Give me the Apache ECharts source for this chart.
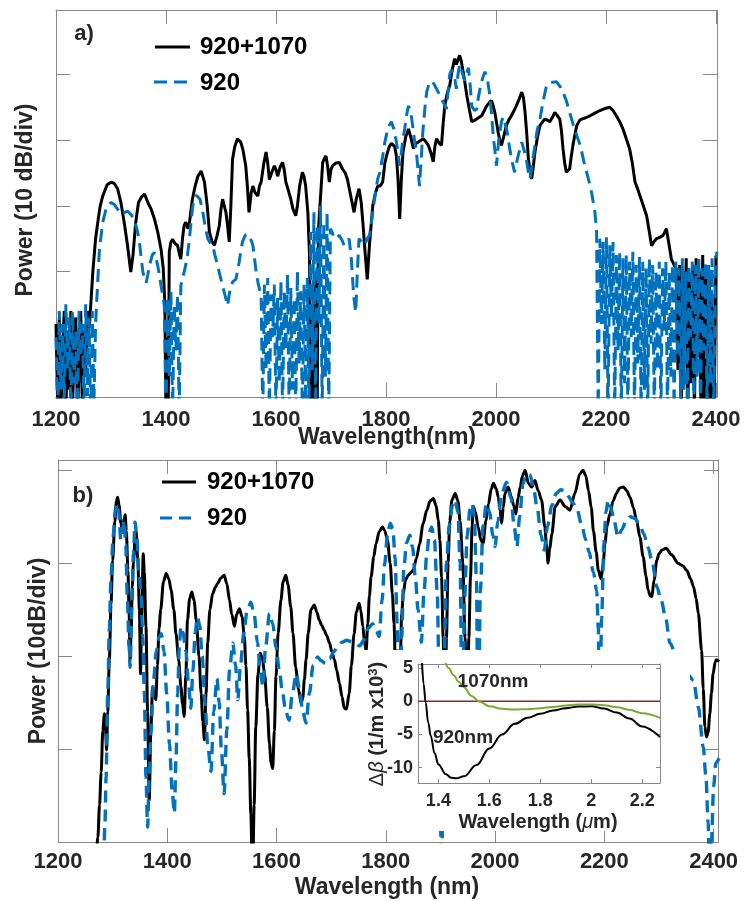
<!DOCTYPE html>
<html>
<head>
<meta charset="utf-8">
<title>Spectra 920 vs 920+1070</title>
<script src="https://cdn.jsdelivr.net/npm/echarts@6.0.0/dist/echarts.min.js"></script>
<style>
  html, body { margin: 0; padding: 0; background: #fff; }
  #chart { width: 745px; height: 901px; }
</style>
</head>
<body>
<div id="chart"></div>
<script>
// a) measured spectra, [wavelength nm, power dB]
const aBoth = [
  [1200,-48],[1203,-60],[1206,-47],[1209,-62],[1212,-52],[1215,-46],[1218,-62],[1221,-49],[1224,-58],[1227,-46],
  [1230,-62],[1233,-50],[1236,-47],[1239,-62],[1242,-55],[1245,-46],[1248,-62],[1251,-49],[1254,-56],[1257,-46],
  [1259,-49],[1261,-48],[1264,-44],[1267,-40],[1272,-35],[1276,-32.5],[1280,-30.2],[1285,-28.5],[1293,-26.8],[1300,-26.4],
  [1306,-26.6],[1312,-27.4],[1318,-29.5],[1324,-32.5],[1330,-36],[1336,-40.1],[1340,-37.5],[1345,-32.5],[1350,-29.5],[1356,-28.6],
  [1361,-28.2],[1367,-29.5],[1373,-30.5],[1379,-32],[1385,-34],[1391,-36.6],[1395,-39.5],[1398,-45],[1400,-62],[1402,-50],
  [1404,-62],[1406,-37],[1409,-35.5],[1412,-35.1],[1417,-35.8],[1421,-36],[1425,-37.5],[1427,-38.1],[1430,-35],[1433,-33],
  [1436,-32.5],[1440,-33.5],[1442,-33],[1445,-31],[1448,-29],[1453,-27],[1458,-25.5],[1464,-24.7],[1470,-26.4],[1475,-30],
  [1479,-34],[1484,-35.5],[1488,-36],[1493,-34.5],[1497,-33],[1500,-30.5],[1503,-29],[1506,-30],[1509,-31],[1512,-33],
  [1515,-35.5],[1518,-30],[1521,-22.9],[1525,-21],[1530,-19.8],[1533,-19.6],[1536,-20.3],[1540,-21.5],[1545,-23.9],[1548,-27],
  [1551,-31],[1555,-28],[1558,-27],[1562,-28],[1567,-28.5],[1570,-27],[1573,-26.4],[1578,-23.5],[1582,-21.8],[1585,-23.5],
  [1588,-26],[1592,-25],[1597,-23.9],[1600,-24.5],[1603,-25.5],[1608,-24],[1612,-23.4],[1615,-24.5],[1618,-26.4],[1622,-27.5],
  [1627,-29],[1631,-30.5],[1636,-31.5],[1639,-30],[1643,-27],[1648,-24.9],[1651,-25.5],[1654,-27],[1658,-31],[1661,-37.6],
  [1663,-62],[1665,-45],[1667,-62],[1669,-42],[1671,-62],[1673,-40],[1675,-62],[1677,-34],[1680,-30],[1685,-23.4],
  [1688,-22.8],[1691,-22.4],[1694,-24],[1697,-26.4],[1700,-24.5],[1703,-23.9],[1709,-23.5],[1715,-23.4],[1721,-24.4],[1726,-25],
  [1730,-26],[1736,-28.5],[1742,-31],[1746,-29],[1751,-27.4],[1755,-29.5],[1758,-32.5],[1762,-37],[1766,-41.2],[1770,-36],
  [1773,-33],[1776,-30],[1781,-28],[1785,-27],[1789,-27],[1794,-26.4],[1798,-23.5],[1801,-22.4],[1806,-21],[1810,-20.5],
  [1813,-20.3],[1816,-21],[1819,-22.4],[1822,-26],[1825,-32],[1828,-26],[1831,-21.8],[1836,-19.5],[1841,-18.3],[1845,-19.5],
  [1850,-21.3],[1855,-20.5],[1859,-20.3],[1864,-20],[1868,-19.8],[1872,-20.2],[1877,-20.8],[1882,-22],[1886,-23.3],[1889,-21],
  [1892,-19.8],[1897,-20.5],[1901,-20.8],[1904,-17.5],[1907,-14.8],[1911,-13],[1916,-11.7],[1920,-9.5],[1925,-7.6],[1928,-8.5],
  [1931,-7.8],[1934,-7.1],[1937,-8],[1941,-9.9],[1944,-11.5],[1947,-13.2],[1952,-15.5],[1956,-17.2],[1961,-17],[1965,-16.8],
  [1970,-16.5],[1974,-16.3],[1979,-15.5],[1983,-14.8],[1988,-14.3],[1992,-14],[1995,-14.8],[1998,-15.8],[2001,-17.3],[2004,-18.8],
  [2007,-20],[2010,-20.8],[2014,-19.5],[2019,-17.8],[2023,-17],[2028,-16.3],[2033,-15.5],[2037,-14.8],[2042,-13.8],[2047,-12.7],
  [2050,-13.5],[2053,-15.8],[2056,-19],[2059,-22.9],[2062,-24.5],[2065,-25.9],[2068,-24],[2071,-21.8],[2075,-19.8],[2080,-17.8],
  [2085,-17.2],[2089,-16.8],[2094,-17],[2098,-17.2],[2103,-16.5],[2107,-15.8],[2111,-16.2],[2116,-16.8],[2119,-18.5],[2122,-21.3],
  [2125,-23.5],[2128,-24.9],[2131,-25],[2134,-24.4],[2137,-22.5],[2140,-20.8],[2144,-19],[2147,-17.8],[2152,-17],[2156,-16.8],
  [2163,-16.6],[2171,-16.3],[2180,-15.9],[2189,-15.5],[2198,-15.2],[2207,-15],[2213,-15.5],[2219,-16.3],[2225,-17.2],[2231,-18.3],
  [2237,-19.8],[2243,-21.3],[2248,-23.5],[2253,-26.4],[2258,-27.5],[2262,-28.5],[2268,-30],[2274,-31.5],[2279,-34],[2283,-36.1],
  [2287,-35.5],[2292,-35],[2298,-34.8],[2304,-34.5],[2307,-34],[2310,-33.5],[2314,-35.5],[2319,-38.1],[2324,-39],[2328,-39.6],
  [2331,-55],[2334,-39],[2337,-62],[2340,-40],[2343,-50],[2346,-38],[2349,-62],[2352,-41],[2355,-57],[2358,-39],
  [2361,-62],[2364,-38],[2367,-53],[2370,-40],[2373,-62],[2376,-37.5],[2379,-60],[2382,-39],[2385,-62],[2388,-40],
  [2391,-62],[2394,-45],[2397,-62],[2400,-37.6]
];
const aSingle = [
  [1200,-50],[1203,-62],[1206,-46],[1209,-58],[1212,-48],[1215,-62],[1218,-45],[1221,-55],[1224,-47],[1227,-62],
  [1230,-46],[1233,-57],[1236,-49],[1239,-62],[1242,-46],[1245,-53],[1248,-48],[1251,-62],[1254,-45],[1257,-59],
  [1260,-47],[1263,-62],[1266,-46],[1269,-60],[1272,-48],[1275,-43],[1279,-36.6],[1285,-32.5],[1290,-30.8],[1294,-30],
  [1300,-29.5],[1306,-29.8],[1312,-30.5],[1318,-31.3],[1321,-31.3],[1325,-31],[1330,-30.8],[1336,-31.3],[1342,-32],[1347,-33.5],
  [1351,-35],[1355,-38],[1358,-40.1],[1361,-41],[1364,-41.7],[1367,-40.5],[1370,-39.1],[1375,-37.5],[1379,-37.1],[1382,-38],
  [1385,-39.1],[1388,-40.5],[1391,-42.2],[1394,-43.5],[1397,-45.2],[1400,-62],[1403,-44],[1406,-56],[1409,-43],[1412,-62],
  [1415,-45],[1418,-52],[1421,-43.5],[1424,-62],[1427,-42.2],[1430,-41],[1433,-40.1],[1436,-39],[1439,-37.6],[1442,-35.5],
  [1445,-33],[1448,-30.5],[1451,-29],[1455,-28.4],[1458,-28.2],[1462,-29],[1467,-31],[1471,-33],[1476,-35],[1480,-35.6],
  [1485,-36],[1489,-37.5],[1494,-39.1],[1498,-40.5],[1503,-42.2],[1507,-43.5],[1512,-45.2],[1515,-43.5],[1518,-42.2],[1522,-41.5],
  [1527,-41.2],[1530,-40],[1533,-38.6],[1536,-37],[1539,-35.5],[1544,-34.5],[1548,-34.3],[1552,-34.7],[1556,-35.5],[1558,-36],
  [1561,-38],[1564,-40.1],[1568,-42],[1573,-43.7],[1576,-62],[1579,-42],[1582,-55],[1585,-41],[1588,-62],[1591,-43.5],
  [1594,-50],[1597,-42],[1600,-62],[1603,-44],[1606,-57],[1609,-41.5],[1612,-62],[1615,-43],[1618,-52],[1621,-40.5],
  [1624,-62],[1627,-42.5],[1630,-58],[1633,-44],[1636,-62],[1639,-40],[1642,-54],[1645,-43],[1648,-62],[1651,-42],
  [1654,-60],[1657,-41],[1660,-62],[1663,-34],[1666,-55],[1669,-31],[1672,-62],[1675,-33],[1678,-48],[1681,-30],
  [1684,-62],[1687,-32.5],[1690,-56],[1693,-31],[1696,-62],[1699,-33.5],[1702,-34],[1706,-35],[1710,-34.8],[1715,-34.5],
  [1720,-35.2],[1724,-36],[1729,-35.5],[1733,-35],[1737,-38],[1740,-42],[1742,-44.2],[1745,-46.2],[1748,-40],[1751,-35],
  [1756,-35.5],[1761,-36],[1766,-35],[1770,-34.5],[1773,-33],[1776,-31],[1780,-28.5],[1785,-25.9],[1789,-24.9],[1794,-22.5],
  [1798,-20.3],[1804,-18],[1810,-17.2],[1815,-18.5],[1819,-20.3],[1822,-22],[1825,-23.9],[1830,-20.5],[1834,-18.3],[1838,-16],
  [1841,-14.8],[1844,-15.5],[1847,-16.8],[1851,-19.5],[1856,-22.4],[1861,-27],[1864,-23],[1867,-18.8],[1871,-15],[1874,-12.7],
  [1878,-11.5],[1883,-11],[1887,-11.4],[1892,-12.2],[1897,-13],[1901,-13.7],[1906,-14.5],[1910,-15.3],[1913,-12.5],[1916,-10],
  [1919,-9.3],[1922,-9],[1925,-10.5],[1928,-12.2],[1931,-10],[1934,-8.5],[1938,-9.5],[1943,-11],[1946,-10],[1950,-9],
  [1953,-11.5],[1956,-14.8],[1961,-15.5],[1965,-15.3],[1968,-13.5],[1971,-12.2],[1976,-10.5],[1980,-9.6],[1984,-10.5],[1989,-13.2],
  [1992,-16],[1995,-19.3],[1998,-21.5],[2001,-23.9],[2005,-20],[2010,-17.2],[2013,-16.5],[2016,-16.3],[2020,-18.5],[2025,-21.3],
  [2030,-23.5],[2034,-24.9],[2040,-22.5],[2047,-20.3],[2051,-21.5],[2056,-23.3],[2059,-24.8],[2062,-25.9],[2066,-23.5],[2071,-20.8],
  [2075,-18.5],[2080,-16.8],[2086,-14],[2092,-11.7],[2098,-11.2],[2104,-11.2],[2110,-11.1],[2113,-11.2],[2118,-12],[2122,-12.7],
  [2128,-14],[2134,-15.8],[2140,-17.5],[2147,-19.3],[2152,-20.5],[2156,-21.8],[2160,-23.3],[2165,-24.9],[2170,-26.5],[2174,-28],
  [2177,-29.5],[2180,-31],[2183,-33.8],[2186,-62],[2189,-35],[2192,-48],[2195,-35.5],[2198,-55],[2201,-34.8],[2204,-62],
  [2207,-36],[2210,-47],[2213,-35.5],[2216,-62],[2219,-37.5],[2222,-52],[2225,-37],[2228,-62],[2231,-38],[2234,-57],
  [2237,-37.5],[2240,-62],[2243,-38.5],[2246,-50],[2249,-37],[2252,-62],[2255,-39],[2258,-54],[2261,-37.8],[2264,-62],
  [2267,-38.5],[2270,-58],[2273,-39.5],[2276,-62],[2279,-38],[2282,-51],[2285,-39],[2288,-62],[2291,-40],[2294,-55],
  [2297,-38.5],[2300,-62],[2303,-39.5],[2306,-49],[2309,-38.5],[2312,-62],[2315,-40],[2318,-56],[2321,-39],[2324,-62],
  [2327,-38.5],[2330,-53],[2333,-39.5],[2336,-62],[2339,-38],[2342,-58],[2345,-40],[2348,-62],[2351,-39],[2354,-50],
  [2357,-38.5],[2360,-62],[2363,-39],[2366,-56],[2369,-38],[2372,-62],[2375,-39.5],[2378,-52],[2381,-38.5],[2384,-62],
  [2387,-39],[2390,-57],[2393,-38],[2396,-62],[2399,-38.5],[2402,-37]
];

// b) simulated spectra, [wavelength nm, power dB]
const bBoth = [
  [1262,-48],[1268,-43],[1273,-39.5],[1276,-36],[1279,-32.5],[1282,-28],[1285,-26.2],[1287,-28],[1289,-30.1],[1291,-26],
  [1294,-20.4],[1297,-14.5],[1300,-9.7],[1304,-5.5],[1307,-3.3],[1309,-2.9],[1312,-3.8],[1315,-5.7],[1318,-6.5],[1321,-5.2],
  [1323,-4.8],[1325,-6.5],[1328,-10.8],[1330,-15],[1332,-20.4],[1334,-17],[1336,-12.5],[1338,-10],[1341,-7.5],[1343,-6.6],
  [1346,-9.5],[1349,-15],[1351,-21.9],[1353,-16],[1356,-9],[1358,-11],[1361,-16.8],[1364,-26],[1367,-35.5],[1370,-28],
  [1373,-23.3],[1376,-24],[1379,-24.7],[1382,-21],[1385,-17],[1388,-15],[1393,-12],[1398,-11.1],[1403,-11.7],[1407,-12.9],
  [1412,-15],[1416,-17.6],[1421,-20.5],[1425,-23.3],[1428,-25.2],[1431,-26.5],[1434,-22],[1437,-16.1],[1441,-13.8],[1445,-13.1],
  [1449,-14],[1453,-16.1],[1458,-20],[1462,-24],[1465,-27],[1468,-29],[1471,-24],[1474,-18.6],[1478,-15],[1483,-13.3],
  [1488,-12.6],[1492,-12.2],[1498,-11.6],[1504,-11.3],[1509,-12.2],[1514,-14],[1518,-15.5],[1523,-16.8],[1527,-15.5],[1532,-14.9],
  [1537,-15.8],[1541,-17.9],[1544,-21],[1547,-25.8],[1550,-31],[1553,-37],[1556,-45],[1559,-36],[1562,-27.6],[1566,-22],
  [1570,-19.7],[1574,-20.2],[1578,-21.9],[1583,-25.5],[1587,-29.4],[1590,-31.5],[1593,-32.1],[1596,-28],[1599,-22.2],[1603,-17.5],
  [1608,-14],[1612,-12],[1617,-11.3],[1621,-12.3],[1626,-14.7],[1630,-17.5],[1635,-21.2],[1640,-23.5],[1645,-25.1],[1648,-24.5],
  [1651,-22.5],[1654,-20.4],[1658,-17.5],[1663,-15],[1669,-14.5],[1674,-15.3],[1678,-16.1],[1683,-16.7],[1687,-17.2],[1692,-17.8],
  [1697,-18.6],[1701,-19.5],[1706,-20.4],[1710,-21.5],[1715,-22.9],[1720,-24.4],[1724,-25.6],[1728,-25.7],[1733,-24],[1737,-21],
  [1742,-17.6],[1746,-15.3],[1751,-14.3],[1754,-15],[1758,-16.8],[1761,-18.5],[1764,-19.4],[1767,-16.5],[1770,-13.5],[1773,-11.5],
  [1778,-9.3],[1782,-7.9],[1788,-6.6],[1794,-6.1],[1798,-6.5],[1803,-7.5],[1808,-10],[1812,-13.3],[1815,-16.5],[1818,-22],
  [1822,-30],[1826,-22],[1829,-15.5],[1832,-13.3],[1836,-11.8],[1841,-11.3],[1846,-11],[1850,-10.8],[1856,-9.5],[1862,-7.9],
  [1868,-5.8],[1875,-4.3],[1881,-3.3],[1887,-3.05],[1892,-3.8],[1896,-5.4],[1899,-7.5],[1902,-11.5],[1905,-18],[1908,-30],
  [1911,-18],[1914,-10],[1917,-5.5],[1921,-3.2],[1927,-2.5],[1932,-3.3],[1936,-5.5],[1941,-10],[1945,-18],[1949,-30],
  [1952,-18],[1955,-11.5],[1958,-6],[1960,-3.9],[1964,-4.5],[1969,-6.1],[1974,-7.5],[1978,-7.9],[1983,-5.5],[1988,-3.6],
  [1993,-2],[1997,-1.4],[2002,-2],[2006,-2.9],[2009,-4.3],[2012,-5.7],[2015,-4],[2018,-2.5],[2024,-1.8],[2030,-2.9],
  [2034,-3.8],[2038,-4.7],[2042,-3],[2046,-1.8],[2050,-0.6],[2055,0],[2061,-1.4],[2067,-1.8],[2073,-1.1],[2079,-2.2],
  [2085,-3.2],[2091,-6.1],[2094,-8],[2097,-10],[2100,-8.5],[2104,-6.8],[2110,-3.9],[2119,-3.2],[2128,-3.9],[2137,-4.3],
  [2146,-2.5],[2155,-0.4],[2161,0],[2166,-0.6],[2171,-2.2],[2176,-4],[2180,-6.5],[2185,-8.8],[2189,-10.8],[2194,-11.7],
  [2198,-10],[2201,-7.9],[2205,-6],[2210,-4.7],[2216,-3.3],[2222,-2.5],[2228,-1.9],[2235,-1.8],[2241,-2.2],[2247,-2.9],
  [2253,-4],[2259,-5.4],[2265,-7.2],[2271,-9.3],[2276,-11.3],[2280,-12.9],[2284,-13.5],[2287,-13.6],[2291,-11.8],[2296,-9.7],
  [2300,-9],[2305,-8.6],[2313,-8.4],[2323,-9.1],[2335,-10],[2344,-10.3],[2351,-10.8],[2358,-11.7],[2363,-12.5],[2368,-13.8],
  [2372,-15.4],[2378,-19.4],[2381,-23.5],[2384,-27.6],[2387,-28.7],[2390,-28.2],[2393,-26.2],[2396,-24],[2399,-21.9],[2403,-20.6],
  [2405,-20.4],[2410,-20.6]
];
const bSingle = [
  [1278,-48],[1283,-43],[1286,-38],[1288,-33],[1291,-24],[1294,-17],[1297,-11.5],[1301,-7],[1305,-4.3],[1308,-3.6],
  [1311,-4.5],[1315,-7.5],[1318,-6.5],[1321,-5.4],[1324,-8],[1327,-14],[1330,-19],[1332,-21.2],[1335,-15],[1338,-9],
  [1341,-5.6],[1344,-7],[1348,-11],[1352,-13.3],[1355,-18],[1358,-24],[1361,-33],[1364,-38.4],[1367,-33],[1370,-28.3],
  [1375,-22.5],[1380,-19.5],[1385,-18],[1389,-17.6],[1394,-19.5],[1399,-24],[1404,-29.5],[1409,-34.5],[1413,-36.9],[1416,-31],
  [1419,-24],[1422,-19],[1425,-16.8],[1429,-17.5],[1434,-19.5],[1439,-23],[1443,-25.6],[1447,-21.5],[1451,-17.5],[1455,-15.8],
  [1459,-16.5],[1464,-20],[1469,-25],[1474,-29.5],[1480,-32.4],[1485,-26],[1491,-22.4],[1495,-25],[1499,-30],[1504,-34.8],
  [1509,-28],[1514,-21.5],[1520,-18.6],[1525,-21],[1529,-24.7],[1534,-21],[1540,-17.5],[1546,-15.2],[1553,-14.2],[1559,-15.5],
  [1565,-18.5],[1570,-21.5],[1575,-23.3],[1580,-19],[1587,-15.4],[1593,-16.5],[1599,-19],[1605,-21.5],[1611,-24],[1617,-26],
  [1623,-26.9],[1629,-24],[1636,-21.9],[1642,-23.5],[1648,-26],[1654,-27.2],[1660,-24],[1667,-21],[1675,-20.1],[1682,-20.5],
  [1690,-20.8],[1697,-20.3],[1705,-19.5],[1712,-18.9],[1720,-18.5],[1728,-18.3],[1736,-18.4],[1744,-18.6],[1752,-18.9],[1760,-18.3],
  [1768,-17],[1776,-16.5],[1782,-17.2],[1788,-17.9],[1793,-14],[1798,-10],[1803,-7],[1808,-5.7],[1813,-6.3],[1817,-9.5],
  [1821,-17],[1825,-32],[1829,-18],[1833,-10.5],[1838,-7.8],[1844,-7],[1849,-8.3],[1854,-11.5],[1859,-15],[1865,-18.5],
  [1870,-13],[1875,-9],[1880,-6.6],[1884,-6.1],[1889,-7.5],[1894,-13],[1898,-24],[1902,-45],[1906,-22],[1911,-10],
  [1916,-6],[1922,-3.8],[1927,-3.2],[1932,-4.5],[1936,-10],[1940,-32],[1944,-14],[1949,-7],[1954,-4.2],[1958,-3.6],
  [1962,-5],[1966,-12],[1969,-32],[1973,-13],[1978,-6],[1984,-3.6],[1990,-4.5],[1996,-7],[2000,-8.2],[2005,-5.5],
  [2012,-2.5],[2021,-1.3],[2029,-3],[2035,-6],[2040,-8.2],[2045,-5],[2051,-1.5],[2057,-0.4],[2064,-0.5],[2070,-1.8],
  [2077,-4],[2084,-7],[2090,-8.6],[2096,-6],[2104,-3.8],[2112,-2.5],[2120,-2.1],[2127,-2.2],[2134,-2.8],[2142,-3.5],
  [2150,-4.2],[2158,-5.8],[2166,-7.5],[2172,-8.8],[2180,-11],[2186,-13],[2189,-17],[2191,-32],[2195,-16],[2199,-8],
  [2203,-4.5],[2207,-3.2],[2212,-4],[2218,-5.5],[2225,-7.2],[2232,-6.4],[2240,-5.4],[2248,-5],[2256,-5.2],[2264,-5.8],
  [2272,-6.8],[2280,-8.3],[2288,-10],[2296,-12.5],[2304,-14],[2312,-15.8],[2320,-18.6],[2335,-20.5],[2350,-21.8],[2363,-22.6],
  [2372,-25.5],[2381,-29.8],[2386,-33],[2390,-38],[2393,-45],[2396,-40],[2400,-34],[2404,-31.5],[2410,-31]
];

// inset: phase mismatch, [wavelength um, delta beta 1/m x10^3]
const inset920 = [
  [1.335,6.5],[1.342,2.6],[1.35,-0.2],[1.36,-3.2],[1.37,-5.2],[1.385,-7.8],[1.40,-9.5],[1.43,-11.0],[1.45,-11.5],[1.47,-11.6],
  [1.50,-11.3],[1.55,-9.6],[1.60,-7.1],[1.65,-5.0],[1.70,-3.4],[1.75,-2.5],[1.80,-1.9],[1.85,-1.4],[1.90,-1.05],[1.95,-0.8],
  [2.00,-0.75],[2.05,-1.1],[2.10,-1.7],[2.15,-2.6],[2.20,-3.8],[2.27,-5.4]
];
const inset1070 = [
  [1.425,6.2],[1.44,5.0],[1.46,3.9],[1.48,2.9],[1.50,2.1],[1.53,0.8],[1.56,-0.05],[1.60,-0.75],[1.65,-1.15],[1.70,-1.25],
  [1.75,-1.2],[1.80,-1.05],[1.85,-0.85],[1.90,-0.65],[1.95,-0.5],[2.00,-0.48],[2.05,-0.6],[2.10,-0.9],[2.15,-1.3],[2.20,-1.8],
  [2.27,-2.5]
];
const insetZero = [[1.32, 0], [2.27, 0]];

const aPowerTicks = [-50, -40, -30, -20, -10];
const insetXTicks = [1.4, 1.6, 1.8, 2, 2.2];
const insetYTicks = [-10, -5, 0, 5];

const FONT = '"Liberation Sans", Arial, Helvetica, sans-serif';
const FRAME = '#888888';
const INK = '#262626';
const BLUE = '#0072BD';

const chart = echarts.init(document.getElementById('chart'));

function frame(gridIndex, min, max, position, extra) {
  return Object.assign({
    type: 'value', gridIndex, min, max, position,
    axisLine: { show: true, onZero: false, lineStyle: { color: FRAME, width: 1 } },
    axisTick: { show: true, inside: true, length: 14, lineStyle: { color: FRAME } },
    axisLabel: { show: false },
    splitLine: { show: false }
  }, extra);
}

const nmLabel = (margin) => ({
  show: true, margin, color: INK, fontFamily: FONT, fontSize: 22, fontWeight: 'bold',
  formatter: (v) => (v % 200 === 0 ? String(v) : '')
});
const insetTick = (vals) => ({ show: true, inside: true, length: 4, customValues: vals, lineStyle: { color: FRAME } });
const insetLabel = (vals, margin) => ({
  show: true, margin, customValues: vals, color: INK, fontFamily: FONT, fontSize: 18, fontWeight: 'bold'
});
const powerTick = { show: true, inside: true, length: 14, customValues: aPowerTicks, lineStyle: { color: FRAME } };

const txt = (x, y, text, size, extra) => Object.assign({
  type: 'text', x, y, z: 40,
  style: { text, fontFamily: FONT, fontSize: size, fontWeight: 'bold', fill: INK, align: 'center', verticalAlign: 'middle' }
}, extra);
const legendText = (x, y, text) => ({
  type: 'text', x, y, z: 40,
  style: { text, fontFamily: FONT, fontSize: 24, fontWeight: 'bold', fill: '#000', align: 'left', verticalAlign: 'middle' }
});

const option = {
  animation: false,
  backgroundColor: '#fff',
  grid: [
    { left: 56, top: 10, width: 661, height: 387 },
    { left: 58, top: 460, width: 660, height: 382 },
    { left: 418, top: 664, width: 242, height: 119, z: 20 }
  ],
  xAxis: [
    frame(0, 1200, 2402, 'bottom', { interval: 200, axisLabel: nmLabel(12) }),
    frame(0, 1200, 2402, 'top', { interval: 200 }),
    frame(1, 1200, 2408, 'bottom', { interval: 200, axisLabel: nmLabel(9) }),
    frame(1, 1200, 2408, 'top', { interval: 200 }),
    frame(2, 1.32, 2.27, 'bottom', { z: 21, axisTick: insetTick(insetXTicks), axisLabel: insetLabel(insetXTicks, 9) }),
    frame(2, 1.32, 2.27, 'top', { z: 21, axisTick: insetTick(insetXTicks) })
  ],
  yAxis: [
    frame(0, -59.1, -0.2, 'left', { axisTick: powerTick }),
    frame(0, -59.1, -0.2, 'right', { axisTick: powerTick }),
    frame(1, -40, 1.1, 'left', { interval: 10 }),
    frame(1, -40, 1.1, 'right', { interval: 10 }),
    frame(2, -12.3, 5.6, 'left', { z: 21, axisTick: insetTick(insetYTicks), axisLabel: insetLabel(insetYTicks, 5) }),
    frame(2, -12.3, 5.6, 'right', { z: 21, axisTick: insetTick(insetYTicks) })
  ],
  series: [
    { name: '920+1070', type: 'line', xAxisIndex: 0, yAxisIndex: 0, data: aBoth, symbol: 'none', silent: true,
      lineStyle: { color: '#000', width: 3 }, z: 3 },
    { name: '920', type: 'line', xAxisIndex: 0, yAxisIndex: 0, data: aSingle, symbol: 'none', silent: true,
      lineStyle: { color: BLUE, width: 3, type: [13, 7] }, z: 4 },
    { name: '920+1070', type: 'line', xAxisIndex: 2, yAxisIndex: 2, data: bBoth, symbol: 'none', silent: true,
      smooth: 0.3, smoothMonotone: 'x', lineStyle: { color: '#000', width: 3 }, z: 3 },
    { name: '920', type: 'line', xAxisIndex: 2, yAxisIndex: 2, data: bSingle, symbol: 'none', silent: true,
      smooth: 0.3, smoothMonotone: 'x', lineStyle: { color: BLUE, width: 3.4, type: [12, 7] }, z: 4 },
    { name: 'zero', type: 'line', xAxisIndex: 4, yAxisIndex: 4, data: insetZero, symbol: 'none', silent: true,
      lineStyle: { color: '#9b2226', width: 1.5 }, z: 22 },
    { name: '920nm', type: 'line', xAxisIndex: 4, yAxisIndex: 4, data: inset920, symbol: 'none', silent: true,
      smooth: 0.4, smoothMonotone: 'x', lineStyle: { color: '#000', width: 2 }, z: 23 },
    { name: '1070nm', type: 'line', xAxisIndex: 4, yAxisIndex: 4, data: inset1070, symbol: 'none', silent: true,
      smooth: 0.4, smoothMonotone: 'x', lineStyle: { color: '#77AC30', width: 2 }, z: 23 }
  ],
  graphic: { elements: [
    // white patch behind the inset and its labels
    { type: 'rect', z: 10, shape: { x: 364, y: 650, width: 326, height: 181 }, style: { fill: '#fff' } },

    txt(84, 34, 'a)', 22, {}),
    txt(83, 496, 'b)', 22, {}),

    // legends
    { type: 'line', z: 40, shape: { x1: 155, y1: 47, x2: 190, y2: 47 }, style: { stroke: '#000', lineWidth: 3 } },
    legendText(200, 47, '920+1070'),
    { type: 'line', z: 40, shape: { x1: 154, y1: 82, x2: 190, y2: 82 }, style: { stroke: BLUE, lineWidth: 3, lineDash: [13, 7] } },
    legendText(200, 83, '920'),

    { type: 'line', z: 40, shape: { x1: 162, y1: 482, x2: 196, y2: 482 }, style: { stroke: '#000', lineWidth: 3 } },
    legendText(207, 482, '920+1070'),
    { type: 'line', z: 40, shape: { x1: 160, y1: 518, x2: 196, y2: 518 }, style: { stroke: BLUE, lineWidth: 3.2, lineDash: [12, 7] } },
    legendText(207, 518, '920'),

    // axis titles
    txt(26, 200, 'Power (10 dB/div)', 23, { rotation: Math.PI / 2 }),
    txt(387, 438, 'Wavelength(nm)', 23, {}),
    txt(39, 651, 'Power (10dB/div)', 23, { rotation: Math.PI / 2 }),
    txt(387, 888, 'Wavelength (nm)', 23, {}),

    // inset annotations
    txt(493, 682, '1070nm', 19, {}),
    txt(463, 738, '920nm', 19, {}),
    { type: 'text', x: 538, y: 822, z: 40,
      style: { text: '{b|Wavelength (}{i|\u03bc}{b|m)}', align: 'center', verticalAlign: 'middle',
        rich: {
          b: { fontFamily: FONT, fontSize: 20, fontWeight: 'bold', fill: INK, color: INK },
          i: { fontFamily: FONT, fontSize: 20, fontStyle: 'italic', fill: INK, color: INK }
        } } },
    { type: 'text', x: 377, y: 724, z: 40, rotation: Math.PI / 2,
      style: { text: '{n|\u0394}{i|\u03b2}{b| (1/m x10}{s|3}{b|)}', align: 'center', verticalAlign: 'middle',
        rich: {
          n: { fontFamily: FONT, fontSize: 20, fill: INK, color: INK },
          i: { fontFamily: FONT, fontSize: 20, fontStyle: 'italic', fill: INK, color: INK },
          b: { fontFamily: FONT, fontSize: 20, fontWeight: 'bold', fill: INK, color: INK },
          s: { fontFamily: FONT, fontSize: 13, fontWeight: 'bold', fill: INK, color: INK, verticalAlign: 'top' }
        } } }
  ] }
};

chart.setOption(option);
</script>
</body>
</html>
